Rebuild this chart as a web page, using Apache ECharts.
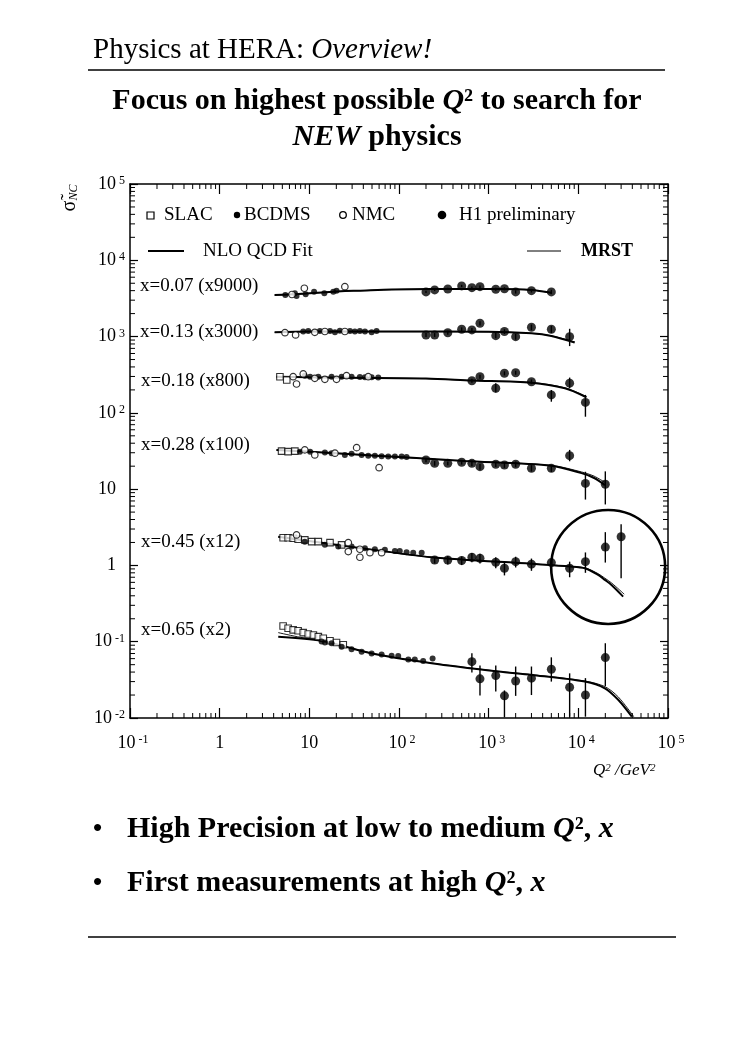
<!DOCTYPE html>
<html><head><meta charset="utf-8">
<script src="https://cdn.jsdelivr.net/npm/echarts@6/dist/echarts.min.js"></script>
<style>html,body{margin:0;padding:0;background:#fff;}#c{width:750px;height:1053px;}</style>
</head><body><div id="c"></div>
<script>
// ---------------- DATA (Q^2 in GeV^2, scaled reduced cross section) ----------------
// x = 0.07 (x9000)
const bcdms1 = [[5.4,3510],[6.9,3690],[7.2,3400],[9.1,3580],[11.3,3880],[14.7,3690],[18.5,3880],[20.1,4000]];
const nmc1   = [[6.4,3560],[8.8,4300],[24.9,4510]];
const h1_1   = [[200,3850,3720,3980],[250,4090,3950,4230],[350,4210,4070,4350],[500,4610,4450,4770],[650,4380,4220,4540],[800,4510,4340,4680],[1200,4170,3990,4350],[1500,4240,4050,4430],[2000,3850,3660,4040],[3000,4000,3780,4220],[5000,3850,3600,4100]];
const nlo1   = [[4.1,3510],[7.5,3610],[25,3960],[35,4000],[83,4140],[230,4210],[1300,4210],[3000,4090],[5000,3760]];
const mrst1  = [[4.1,3495],[7.5,3600],[25,3950],[35,3990],[83,4130],[230,4200],[1300,4200],[3000,4075],[5000,3745]];
// x = 0.13 (x3000)
const nmc2   = [[5.35,1124],[7.03,1050],[11.5,1138],[14.9,1166],[24.9,1166]];
const bcdms2 = [[8.55,1166],[9.72,1184],[13.1,1184],[17.0,1184],[19.3,1138],[21.9,1195],[28.4,1184],[32.2,1166],[36.6,1184],[41.7,1166],[49.5,1138],[56.2,1184]];
const h1_2   = [[200,1050,990,1110],[250,1050,990,1110],[350,1124,1060,1190],[500,1247,1170,1320],[650,1222,1140,1300],[800,1494,1400,1590],[1200,1028,950,1110],[1500,1166,1080,1250],[2000,998,910,1090],[3000,1325,1210,1440],[5000,1247,1110,1380],[8000,998,750,1265]];
const nlo2   = [[4.1,1140],[10,1166],[100,1166],[1000,1160],[3000,1104],[5000,1019],[9100,835]];
const mrst2  = [[4.1,1135],[10,1160],[100,1160],[1000,1155],[3000,1100],[5000,1025],[9100,850]];
// x = 0.18 (x800)
const slac3  = [[4.7,298],[5.6,270]];
const nmc3   = [[6.6,298],[7.2,239],[8.55,324],[11.5,284],[14.9,275],[20.1,275],[26,307],[45.4,298]];
const bcdms3 = [[8.9,307],[10.2,298],[12.6,298],[17.7,298],[22.9,298],[29.6,298],[36.6,295],[41.7,292],[49.5,292],[58.7,290]];
const h1_3   = [[650,264,249,280],[800,298,280,316],[1200,210,185,245],[1500,330,310,350],[2000,336,316,356],[3000,256,238,274],[5000,172,140,199],[8000,245,210,290],[12000,137,89,172]];
const nlo3   = [[4.3,298],[10,292],[30,288],[200,282],[645,266],[3000,249],[7080,210],[12300,160]];
const mrst3  = [[4.3,296],[10,291],[30,287],[200,281],[645,265],[3000,250],[7080,213],[12300,164]];
// x = 0.28 (x100)
const slac4  = [[4.9,31.5],[5.8,31],[6.9,31.5]];
const nmc4   = [[8.9,32.7],[11.5,28.1],[19.3,29.6],[33.7,35],[60,19.1]];
const bcdms4 = [[7.86,31],[10.2,31],[14.9,30.3],[17.7,29.6],[24.9,28.1],[29.6,29],[38.3,28.1],[45.4,27.5],[53.8,27.5],[64,27],[75.9,26.8],[90,26.7],[107,26.7],[121.5,26.4]];
const h1_4   = [[200,24.1,22.6,25.6],[250,21.8,20.3,23.3],[350,21.8,20.5,23.1],[500,22.5,21,24],[650,21.8,20,23.6],[800,19.7,18,21.4],[1200,21.2,19.5,22.9],[1500,20.7,19,22.4],[2000,21.2,19.4,23],[3000,18.8,17,20.6],[5000,18.8,16.8,20.8],[8000,27.5,23.2,32.7],[12000,11.9,7.3,16.9],[20000,11.6,6.3,17.1]];
const nlo4   = [[4.3,32.7],[20,29.5],[127,25.9],[543,23.4],[5000,20.3],[10860,16.2],[15000,14.0],[19760,11.3]];
const mrst4  = [[4.3,32.5],[20,29.4],[127,25.8],[543,23.3],[5000,20.5],[10860,16.8],[15000,14.8],[19760,12.3]];
// x = 0.45 (x12)
const slac5  = [[5.1,2.31],[5.8,2.31],[6.6,2.27],[7.5,2.20],[8.9,2.16],[10.6,2.05],[12.6,2.05],[17.0,1.99],[22.9,1.86]];
const nmc5   = [[7.2,2.51],[27.2,1.99],[27.2,1.52],[36.6,1.28],[36.6,1.63],[47.4,1.47],[64,1.47]];
const bcdms5 = [[8.9,2.05],[14.9,1.86],[21,1.77],[29.6,1.77],[41.7,1.68],[53.8,1.63],[69.6,1.60],[90,1.55],[102,1.55],[121.5,1.49],[144,1.47],[179,1.47]];
const h1_5   = [[250,1.18,1.06,1.30],[350,1.18,1.03,1.33],[500,1.16,1.01,1.31],[650,1.28,1.1,1.46],[800,1.24,1.06,1.42],[1200,1.10,0.92,1.28],[1500,0.918,0.74,1.1],[2000,1.12,0.94,1.30],[3000,1.04,0.85,1.23],[5000,1.09,0.95,1.2],[8000,0.918,0.70,1.12],[12000,1.12,0.80,1.48],[20000,1.74,1.09,2.73],[30000,2.38,0.68,3.46]];
const nlo5   = [[4.5,2.38],[30,1.75],[231,1.28],[3000,1.05],[8000,0.97],[11830,0.918],[16630,0.75],[19770,0.646],[23440,0.555],[31600,0.39]];
const mrst5  = [[4.5,2.36],[30,1.74],[231,1.28],[3000,1.05],[8000,0.975],[11830,0.93],[16630,0.78],[19770,0.68],[23440,0.59],[32500,0.42]];
// x = 0.65 (x2)
const slac6  = [[5.1,0.161],[5.8,0.150],[6.6,0.143],[7.5,0.139],[8.55,0.1316],[9.72,0.1265],[11.1,0.1227],[12.6,0.1165],[14.3,0.111],[17.0,0.103],[20.1,0.0977],[23.9,0.0912]];
const bcdms6 = [[13.7,0.1007],[14.9,0.0977],[17.7,0.0953],[22.9,0.0861],[29.6,0.0795],[38.3,0.074],[49.5,0.0703],[64,0.0682],[82.7,0.0655],[98,0.065],[127,0.0586],[150,0.0586],[186,0.0557],[237,0.0604]];
const h1_6   = [[650,0.0548,0.0394,0.0705],[800,0.0326,0.0197,0.0487],[1200,0.036,0.0222,0.0487],[1500,0.0195,0.0102,0.023],[2000,0.0306,0.0195,0.0473],[3000,0.0333,0.020,0.0473],[5000,0.0436,0.030,0.0624],[8000,0.0253,0.0104,0.0385],[12000,0.020,0.0104,0.0333],[20000,0.0619,0.0262,0.0955]];
const nlo6   = [[4.5,0.1165],[13.7,0.103],[50,0.070],[231,0.0522],[1276,0.0406],[3000,0.0367],[11830,0.030],[19770,0.0245],[28000,0.0172],[39500,0.0104]];
const mrst6  = [[4.5,0.1316],[8,0.114],[13.7,0.104],[50,0.0705],[231,0.0525],[1276,0.041],[3000,0.037],[11830,0.0305],[19770,0.0258],[28000,0.0188],[41500,0.0104]];

const binLabels = ['x=0.07 (x9000)','x=0.13 (x3000)','x=0.18 (x800)','x=0.28 (x100)','x=0.45 (x12)','x=0.65 (x2)'];
const highlight = [21500, 0.955];   // circled region (data coords)

// ---------------- CHART ----------------
const FONT = '"Liberation Serif","Times New Roman",Times,serif';
const chart = echarts.init(document.getElementById('c'));

const groups = [
  {slac:null,  bcdms:bcdms1, nmc:nmc1, h1:h1_1, nlo:nlo1, mrst:mrst1},
  {slac:null,  bcdms:bcdms2, nmc:nmc2, h1:h1_2, nlo:nlo2, mrst:mrst2},
  {slac:slac3, bcdms:bcdms3, nmc:nmc3, h1:h1_3, nlo:nlo3, mrst:mrst3},
  {slac:slac4, bcdms:bcdms4, nmc:nmc4, h1:h1_4, nlo:nlo4, mrst:mrst4},
  {slac:slac5, bcdms:bcdms5, nmc:nmc5, h1:h1_5, nlo:nlo5, mrst:mrst5},
  {slac:slac6, bcdms:bcdms6, nmc:null, h1:h1_6, nlo:nlo6, mrst:mrst6}
];

const series = [];
groups.forEach(g => {
  series.push({type:'line', data:g.mrst, smooth:0.3, showSymbol:false, z:2, silent:true,
    lineStyle:{color:'#000', width:0.9}});
  series.push({type:'line', data:g.nlo, smooth:0.3, showSymbol:false, z:2, silent:true,
    lineStyle:{color:'#000', width:2}});
  series.push({type:'custom', data:g.h1, z:3, silent:true, clip:false, encode:{x:0, y:[1,2,3]},
    renderItem:(params, api) => {
      const q = api.value(0);
      const p1 = api.coord([q, api.value(2)]);
      const p2 = api.coord([q, api.value(3)]);
      return {type:'line', shape:{x1:p1[0], y1:p1[1], x2:p2[0], y2:p2[1]}, style:{stroke:'#000', lineWidth:1.4}};
    }});
  if (g.slac) series.push({type:'scatter', data:g.slac, symbol:'rect', symbolSize:6.5, z:4, silent:true,
    itemStyle:{color:'#fff', borderColor:'#000', borderWidth:1.1}});
  if (g.bcdms) series.push({type:'scatter', data:g.bcdms, symbol:'circle', symbolSize:6, z:4, silent:true,
    itemStyle:{color:'#000'}});
  if (g.nmc) series.push({type:'scatter', data:g.nmc, symbol:'circle', symbolSize:6.5, z:5, silent:true,
    itemStyle:{color:'#fff', borderColor:'#000', borderWidth:1.2}});
  series.push({type:'scatter', data:g.h1.map(d => [d[0], d[1]]), symbol:'circle', symbolSize:9, z:5, silent:true,
    itemStyle:{color:'#000'}});
});

// minor ticks (2..9 per decade) drawn on all four frame sides
const xMinor = [], yMinor = [];
for (let e = -1; e <= 4; e++) for (let m = 2; m <= 9; m++) xMinor.push(+(m * Math.pow(10, e)).toPrecision(3));
for (let e = -2; e <= 4; e++) for (let m = 2; m <= 9; m++) yMinor.push(+(m * Math.pow(10, e)).toPrecision(3));
series.push({type:'custom', data:xMinor.map(v => [v, 1]), silent:true, clip:false, z:6,
  renderItem:(params, api) => {
    const cs = params.coordSys; const x = api.coord([api.value(0), 1])[0]; const yb = cs.y + cs.height;
    return {type:'group', children:[
      {type:'line', shape:{x1:x, y1:yb, x2:x, y2:yb-5}, style:{stroke:'#000', lineWidth:1}},
      {type:'line', shape:{x1:x, y1:cs.y, x2:x, y2:cs.y+5}, style:{stroke:'#000', lineWidth:1}}]};
  }});
series.push({type:'custom', data:yMinor.map(v => [1, v]), silent:true, clip:false, z:6,
  renderItem:(params, api) => {
    const cs = params.coordSys; const y = api.coord([1, api.value(1)])[1]; const xr = cs.x + cs.width;
    return {type:'group', children:[
      {type:'line', shape:{x1:cs.x, y1:y, x2:cs.x+5, y2:y}, style:{stroke:'#000', lineWidth:1}},
      {type:'line', shape:{x1:xr-5, y1:y, x2:xr, y2:y}, style:{stroke:'#000', lineWidth:1}}]};
  }});
// highlight circle
series.push({type:'custom', data:[highlight], silent:true, clip:false, z:7,
  renderItem:(params, api) => {
    const p = api.coord([api.value(0), api.value(1)]);
    return {type:'circle', shape:{cx:p[0], cy:p[1], r:57}, style:{fill:'none', stroke:'#000', lineWidth:2.6}};
  }});

function yLabel(v) {
  const e = Math.round(Math.log10(v));
  if (e === 0) return '{p|1}';
  if (e === 1) return '{p|10}';
  return '{b|10}{s|' + e + '}';
}
function xLabel(v) {
  const e = Math.round(Math.log10(v));
  if (e === 0) return '{b|1}';
  if (e === 1) return '{b|10}';
  return '{q|10}{s|' + e + '}';
}
const rich = {
  b:{fontFamily:FONT, fontSize:18, color:'#000'},
  p:{fontFamily:FONT, fontSize:18, color:'#000', padding:[0,9,0,0]},
  q:{fontFamily:FONT, fontSize:18, color:'#000', padding:[0,0,0,6]},
  s:{fontFamily:FONT, fontSize:12, color:'#000', verticalAlign:'top', padding:[0,0,0,3]}
};
const lineSt = {color:'#000', width:1.5};

const axX = (pos, show) => ({type:'log', logBase:10, min:0.1, max:1e5, splitNumber:6, position:pos,
  axisLine:{show:true, lineStyle:lineSt}, axisTick:{show:true, inside:true, length:10, lineStyle:{color:'#000', width:1.2}},
  axisLabel:{show:show, formatter:xLabel, rich:rich, margin:16}, splitLine:{show:false}});
const axY = (pos, show) => ({type:'log', logBase:10, min:0.01, max:1e5, splitNumber:7, position:pos,
  axisLine:{show:true, lineStyle:lineSt}, axisTick:{show:true, inside:true, length:8, lineStyle:{color:'#000', width:1.2}},
  axisLabel:{show:show, formatter:yLabel, rich:rich, margin:5}, splitLine:{show:false}});

const T = (x, y, text, font, align, extra) => Object.assign({type:'text', x:x, y:y, silent:true,
  style:{text:text, font:font, fill:'#000', textAlign:align || 'left', textVerticalAlign:'middle'}}, extra || {});

const f19 = '19px ' + FONT;
const H = 30;
const graphic = [
  {type:'text', x:93, y:50, style:{text:'{a|Physics at HERA: }{b|Overview!}', textVerticalAlign:'middle',
    rich:{a:{font:'29px '+FONT, fill:'#000'}, b:{font:'italic 29px '+FONT, fill:'#000'}}}},
  {type:'line', shape:{x1:88, y1:70, x2:665, y2:70}, style:{stroke:'#000', lineWidth:1.6}},
  {type:'text', x:377, y:101, style:{text:'{a|Focus on highest possible }{q|Q}{a|² to search for}', textAlign:'center', textVerticalAlign:'middle',
    rich:{a:{font:'bold '+H+'px '+FONT, fill:'#000'}, q:{font:'bold italic '+H+'px '+FONT, fill:'#000'}}}},
  {type:'text', x:377, y:137, style:{text:'{q|NEW}{a| physics}', textAlign:'center', textVerticalAlign:'middle',
    rich:{a:{font:'bold '+H+'px '+FONT, fill:'#000'}, q:{font:'bold italic '+H+'px '+FONT, fill:'#000'}}}},
  // legend
  {type:'rect', shape:{x:147, y:212, width:7, height:7}, style:{fill:'#fff', stroke:'#000', lineWidth:1.2}},
  T(164, 215, 'SLAC', f19),
  {type:'circle', shape:{cx:237, cy:215, r:3.2}, style:{fill:'#000'}},
  T(244, 215, 'BCDMS', f19),
  {type:'circle', shape:{cx:343, cy:215, r:3.3}, style:{fill:'#fff', stroke:'#000', lineWidth:1.3}},
  T(352, 215, 'NMC', f19),
  {type:'circle', shape:{cx:442, cy:215, r:4.3}, style:{fill:'#000'}},
  T(459, 215, 'H1 preliminary', f19),
  {type:'line', shape:{x1:148, y1:251, x2:184, y2:251}, style:{stroke:'#000', lineWidth:2}},
  T(203, 251, 'NLO QCD Fit', f19),
  {type:'line', shape:{x1:527, y1:251, x2:561, y2:251}, style:{stroke:'#000', lineWidth:1}},
  T(581, 251, 'MRST', 'bold 18px ' + FONT),
  // bin labels
  T(140, 286, binLabels[0], f19), T(140, 332, binLabels[1], f19), T(141, 381, binLabels[2], f19),
  T(141, 445, binLabels[3], f19), T(141, 542, binLabels[4], f19), T(141, 630, binLabels[5], f19),
  // axis titles
  {type:'text', x:593, y:771, style:{text:'{q|Q}{s|2}{q| /GeV}{s|2}', textVerticalAlign:'middle',
    rich:{q:{font:'italic 17px '+FONT, fill:'#000'}, s:{font:'italic 11px '+FONT, fill:'#000', verticalAlign:'top'}}}},
  {type:'text', x:70, y:198, rotation:Math.PI/2, style:{text:'{s|σ̃}{n|NC}', textAlign:'center', textVerticalAlign:'middle',
    rich:{s:{font:'20px '+FONT, fill:'#000'}, n:{font:'italic 12px '+FONT, fill:'#000', verticalAlign:'bottom'}}}},
  // bullets
  T(93, 829, '•', 'bold 26px ' + FONT),
  {type:'text', x:127, y:829, style:{text:'{a|High Precision at low to medium }{q|Q}{a|², }{q|x}', textVerticalAlign:'middle',
    rich:{a:{font:'bold '+H+'px '+FONT, fill:'#000'}, q:{font:'bold italic '+H+'px '+FONT, fill:'#000'}}}},
  T(93, 883, '•', 'bold 26px ' + FONT),
  {type:'text', x:127, y:883, style:{text:'{a|First measurements at high }{q|Q}{a|², }{q|x}', textVerticalAlign:'middle',
    rich:{a:{font:'bold '+H+'px '+FONT, fill:'#000'}, q:{font:'bold italic '+H+'px '+FONT, fill:'#000'}}}},
  {type:'line', shape:{x1:88, y1:937, x2:676, y2:937}, style:{stroke:'#000', lineWidth:1.6}}
];

chart.setOption({
  backgroundColor:'#fff',
  animation:false,
  grid:{left:130, top:184, width:538, height:534, containLabel:false},
  xAxis:[axX('bottom', true), axX('top', false)],
  yAxis:[axY('left', true), axY('right', false)],
  series:series,
  graphic:graphic
});
</script></body></html>
